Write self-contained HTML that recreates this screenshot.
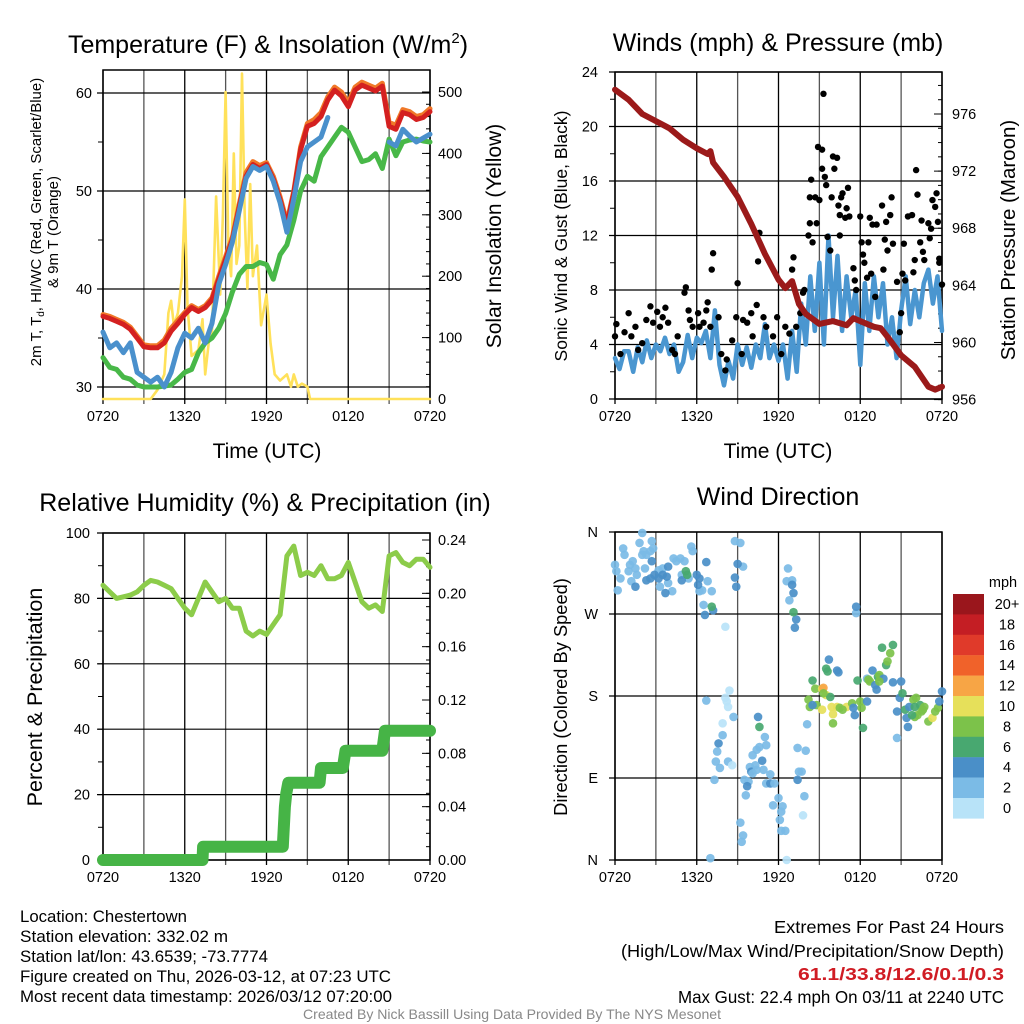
<!DOCTYPE html>
<html><head><meta charset="utf-8"><style>
html,body{margin:0;padding:0;background:#fff}
svg{display:block;font-family:"Liberation Sans",Arial,sans-serif}
</style></head><body>
<svg id="chart" width="1024" height="1024" viewBox="0 0 1024 1024" xmlns="http://www.w3.org/2000/svg">
<rect x="0" y="0" width="1024" height="1024" fill="#fff"/>
<text x="268" y="53" font-size="25" text-anchor="middle">Temperature (F) &amp; Insolation (W/m<tspan font-size="15" dy="-10">2</tspan><tspan dy="10">)</tspan></text>
<text x="778" y="51" font-size="25" text-anchor="middle">Winds (mph) &amp; Pressure (mb)</text>
<text x="265" y="511" font-size="25" text-anchor="middle">Relative Humidity (%) &amp; Precipitation (in)</text>
<text x="778" y="505" font-size="25" text-anchor="middle">Wind Direction</text>

<text transform="translate(41,222) rotate(-90)" font-size="15" text-anchor="middle">2m T, T<tspan font-size="10" dy="3">d</tspan><tspan dy="-3">, HI/WC (Red, Green, Scarlet/Blue)</tspan></text>
<text transform="translate(58,232) rotate(-90)" font-size="15" text-anchor="middle">&amp; 9m T (Orange)</text>
<text transform="translate(501,236) rotate(-90)" font-size="21" text-anchor="middle">Solar Insolation (Yellow)</text>
<text transform="translate(567,236) rotate(-90)" font-size="17.5" text-anchor="middle">Sonic Wind &amp; Gust (Blue, Black)</text>
<text transform="translate(1015,240) rotate(-90)" font-size="20.5" text-anchor="middle">Station Pressure (Maroon)</text>
<text transform="translate(42,697) rotate(-90)" font-size="21.5" text-anchor="middle">Percent &amp; Precipitation</text>
<text transform="translate(567,697) rotate(-90)" font-size="18.3" text-anchor="middle">Direction (Colored By Speed)</text>
<text x="267" y="458" font-size="21" text-anchor="middle">Time (UTC)</text>
<text x="778" y="458" font-size="21" text-anchor="middle">Time (UTC)</text>

<g font-size="16.5">
<text x="20" y="922" textLength="167" lengthAdjust="spacingAndGlyphs">Location: Chestertown</text>
<text x="20" y="942" textLength="208" lengthAdjust="spacingAndGlyphs">Station elevation: 332.02 m</text>
<text x="20" y="962" textLength="248" lengthAdjust="spacingAndGlyphs">Station lat/lon: 43.6539; -73.7774</text>
<text x="20" y="982" textLength="371" lengthAdjust="spacingAndGlyphs">Figure created on Thu, 2026-03-12, at 07:23 UTC</text>
<text x="20" y="1002" textLength="372" lengthAdjust="spacingAndGlyphs">Most recent data timestamp: 2026/03/12 07:20:00</text>
</g>
<g font-size="17.5">
<text x="774" y="933" textLength="230" lengthAdjust="spacingAndGlyphs">Extremes For Past 24 Hours</text>
<text x="621" y="957" textLength="383" lengthAdjust="spacingAndGlyphs">(High/Low/Max Wind/Precipitation/Snow Depth)</text>
<text x="798" y="980" fill="#d01c24" font-weight="bold" textLength="206" lengthAdjust="spacingAndGlyphs">61.1/33.8/12.6/0.1/0.3</text>
<text x="678" y="1003" textLength="326" lengthAdjust="spacingAndGlyphs">Max Gust: 22.4 mph On 03/11 at 2240 UTC</text>
</g>
<text x="303" y="1019" font-size="14" fill="#888" textLength="418" lengthAdjust="spacingAndGlyphs">Created By Nick Bassill Using Data Provided By The NYS Mesonet</text>
<g id="layer"></g>
</svg>
<script>
const xLabels=["0720","1320","1920","0120","0720"];
const tempHalfHr=[37.2,37.0,36.7,36.4,35.9,35.0,34.1,34.0,34.0,34.5,35.7,36.5,37.4,38.1,37.7,38.1,38.9,41.0,43.0,45.0,48.4,51.5,52.7,52.3,52.7,51.2,49.1,46.5,49.8,54.2,56.6,56.9,57.6,59.3,60.3,59.7,58.6,60.3,60.8,60.5,60.2,60.7,56.6,56.3,58.0,57.8,57.3,57.5,58.1];
const temp9m=[37.4,37.2,36.9,36.6,36.1,35.2,34.3,34.2,34.2,34.8,36.0,36.8,37.6,38.3,37.9,38.3,39.1,41.3,43.3,45.3,48.7,51.9,53.0,52.6,52.9,51.5,49.4,46.8,50.0,54.5,56.9,57.3,58.0,59.6,60.6,60.1,59.0,60.6,61.1,60.8,60.5,61.0,57.0,56.7,58.3,58.1,57.6,57.8,58.4];
const hiwc=[35.6,34.0,34.5,33.5,34.5,31.5,31.0,30.5,31.0,30.0,31.5,34.0,35.5,35.0,36.0,34.5,36.5,40.5,42.5,44.8,48.0,51.3,52.5,52.1,52.5,51.0,48.8,45.8,49.2,53.0,54.5,55.0,55.5,57.5,null,null,56.8,null,null,null,null,null,55.0,54.6,56.3,55.6,55.0,55.4,55.8];
const dewpt=[33,32,31.8,31,30.8,30.2,30,30,30,30.1,30.2,30.8,31.5,31.8,33.5,34.5,35,36,37.5,39.7,41.5,42.3,42.3,42.7,42.5,41,43.5,44.5,47,50,51.5,51,53.5,54.5,55.5,56.5,56,54.5,53,53.2,53.8,52.3,55.3,53.6,55,55.2,55.3,55.1,55];
const solarHr=[0,3.5,4,4.5,4.8,5.0,5.2,5.5,5.8,6.0,6.2,6.5,7.0,7.3,7.5,7.8,8.0,8.3,8.6,8.8,9.0,9.2,9.4,9.6,9.8,10.0,10.2,10.4,10.6,10.8,11.0,11.3,11.6,12.0,12.3,12.6,13.0,13.5,13.8,14.0,14.3,14.6,15.0,15.2,24];
const solarW=[0,0,15,40,140,160,120,140,200,325,150,70,80,130,40,100,110,330,170,300,500,250,200,400,220,250,530,300,180,350,200,250,120,170,90,40,30,40,20,40,20,25,20,0,0];
const windThirdHr=[3.0,2.2,3.5,3.5,2.0,3.8,2.7,4.3,3.0,4.0,3.5,4.5,3.3,4.0,2.0,2.7,4.7,3.0,4.5,4.1,5.0,3.0,6.5,2.5,1.0,2.8,1.5,4.0,2.5,3.8,2.3,4.0,3.0,5.5,3.0,4.0,2.8,4.0,1.5,5.0,2.0,7.0,4.0,9.0,5.0,10.0,4.0,12.0,6.0,10.5,5.0,9.0,6.0,8.0,2.5,8.5,5.0,9.0,6.0,8.5,4.0,6.0,3.0,6.5,9.0,5.5,8.0,6.0,8.5,9.5,7.0,9.0,5.0];
const gustHr=[0.0,0.1,0.4,0.7,1.0,1.2,1.5,1.7,2.0,2.3,2.6,2.8,3.1,3.3,3.5,3.7,3.9,4.2,4.4,4.6,5.1,5.2,5.4,5.5,5.7,6.1,6.2,6.5,6.7,6.8,7.0,7.2,7.1,7.6,7.8,8.1,8.2,8.6,8.9,9.0,9.3,9.4,9.7,10.0,10.1,10.4,10.5,10.6,10.9,11.1,11.6,11.9,12.2,12.5,12.8,13.0,13.1,13.3,13.6,13.8,13.9,14.2,14.3,14.3,14.4,14.5,14.7,14.8,14.9,15.0,15.2,15.3,15.2,15.4,15.5,15.6,15.8,15.9,16.0,16.1,16.3,16.4,16.5,16.5,16.6,16.7,16.9,17.0,17.1,17.2,17.5,17.6,17.7,18.0,18.1,18.2,18.3,18.5,18.6,18.7,18.8,18.9,19.1,19.2,19.6,19.7,19.8,19.9,20.0,20.2,20.3,20.4,20.7,20.9,21.0,21.1,21.2,21.3,21.5,21.8,21.9,22.0,22.1,22.2,22.4,22.5,22.6,22.7,23.0,23.1,23.2,23.3,23.5,23.6,23.7,23.8,24.0,23.8];
const gustMph=[4.6,5.5,3.3,4.9,6.3,4.6,5.3,3.6,4.1,5.8,6.8,5.6,6.4,5.3,6.0,6.7,5.6,3.6,3.3,4.6,7.8,8.2,6.5,5.8,5.3,6.3,5.3,5.6,6.5,7.1,5.3,10.7,9.5,6.0,3.3,2.1,2.9,4.3,6.0,8.5,3.3,5.8,5.6,6.3,4.6,6.9,10.1,12.2,6.0,5.3,4.6,6.0,3.3,5.3,4.8,9.5,10.4,5.3,6.3,7.8,8.0,12.0,12.9,14.8,16.1,11.5,14.8,12.9,18.5,14.6,18.3,22.4,16.9,16.3,15.7,11.9,10.9,14.8,17.8,16.9,17.7,14.2,12.0,13.5,14.8,15.1,13.3,14.0,15.5,13.4,9.6,8.7,8.0,13.4,11.5,10.6,10.0,8.9,11.5,13.3,9.2,12.8,7.5,12.8,14.2,9.5,11.7,13.0,10.9,13.5,14.8,11.4,8.6,4.9,6.3,9.2,11.4,8.7,13.4,13.5,9.3,10.2,16.8,15.0,11.5,13.1,10.8,10.2,12.9,11.8,12.5,14.6,14.1,15.1,13.0,10.3,8.4,10.0];
const pressHr=[0,1,2,3,4,5,6,6.8,7,7.2,8,9,10,11,12,12.5,13,13.5,14,15,16,17,17.5,18,19,19.5,20,21,22,23,23.5,24];
const pressMb=[977.7,977.0,976.0,975.5,975.0,974.2,973.6,973.2,973.4,972.6,971.6,970.2,968.3,966.2,964.4,963.8,964.3,962.7,962.0,961.3,961.5,961.2,961.7,961.5,961.1,961.0,960.4,959.1,958.3,956.9,956.7,956.9];
const rhHalfHr=[84,82,80,80.5,81,82,84,85.5,85,84,83,80,77,75,80,85,82,79,80,77,77,70,68.5,70,69,72,75,93,96,87,88,87,90,86,86,87,91,85,79,77,78,76,93,94,91,90,92,92,89.5];
const precHr=[0,7.3,7.35,13.2,13.25,13.3,13.35,13.45,13.6,15.9,16.0,17.6,17.8,20.5,20.7,24];
const precIn=[0,0,0.01,0.01,0.02,0.03,0.04,0.05,0.058,0.058,0.069,0.069,0.082,0.082,0.097,0.097];
const dirHr=[0.0,0.1,0.2,0.4,0.6,0.7,1.0,1.1,1.2,1.3,1.5,1.6,1.8,2.0,2.0,2.1,2.2,2.3,2.6,2.7,2.8,3.2,3.3,3.5,3.9,4.2,4.3,4.5,4.8,4.9,5.1,5.4,5.6,5.7,6.2,6.4,6.5,6.8,7.1,8.8,9.2,9.4,12.7,12.6,13.0,12.8,17.7,8.1,
1.5,2.3,2.6,2.7,2.9,3.2,3.5,3.7,3.8,3.9,4.9,6.0,6.1,6.2,6.7,6.6,7.2,8.8,9.0,8.9,13.0,13.1,13.3,13.2,17.7,
5.2,5.3,7.1,13.1,
6.7,8.1,8.4,8.2,8.3,8.7,7.9,7.9,7.6,7.5,7.4,7.7,7.3,8.3,8.6,9.2,9.4,9.3,7.0,10.5,10.6,11.0,11.1,10.6,10.4,10.1,10.8,10.3,9.9,10.0,10.4,10.9,10.1,9.5,9.8,9.7,11.4,11.1,11.4,11.7,9.6,12.0,11.6,12.3,12.2,12.1,12.5,12.2,12.6,13.5,13.7,13.4,13.9,13.8,13.4,14.0,14.1,
14.5,14.7,15.2,15.3,15.5,15.8,15.3,14.2,14.3,14.8,15.2,14.5,15.9,16.0,16.3,16.5,17.0,16.7,17.4,17.5,17.6,18.0,18.1,18.2,16.0,15.7,15.5,15.6,16.3,16.4,17.8,18.5,18.6,18.7,18.9,19.1,19.2,19.3,19.4,19.6,19.7,19.9,20.0,20.2,20.4,18.5,19.4,20.4,20.7,20.7,20.9,21.0,21.1,21.3,21.4,21.5,21.6,21.9,22.0,22.1,22.2,22.4,22.5,22.6,22.7,23.0,23.3,23.5,23.7,23.8,24.0,22.0,21.8];
const dirDeg=[324,317,296,309,342,335,317,324,306,328,320,313,348,359,335,339,320,335,339,350,342,318,300,320,304,295,331,328,331,313,328,309,344,339,295,296,280,306,295,350,348,322,320,306,307,285,271,256,
300,307,309,328,313,309,313,293,311,322,307,313,302,309,327,269,274,310,325,300,302,293,264,255,278,
317,313,278,272,
175,178,186,174,168,157,150,137,128,119,108,101,88,108,104,41,27,20,2,157,146,135,126,124,121,115,109,104,102,97,99,99,95,88,86,81,94,84,84,84,71,68,60,59,53,44,32,32,0,97,97,88,70,49,123,120,149,
197,188,188,189,181,179,183,176,168,170,165,170,168,160,168,167,168,165,172,167,159,174,167,145,150,220,210,207,208,206,197,199,198,196,208,192,187,201,203,233,199,214,218,227,236,174,196,195,163,134,178,196,183,165,156,146,168,176,168,178,159,170,163,165,168,152,156,163,167,174,185,157,159];
const dirSpd=[2,2,2,2,2,2,2,2,2,2,2,2,2,2,2,2,2,2,2,2,2,2,2,2,2,2,2,2,2,2,2,2,2,2,2,2,2,2,2,2,2,2,2,2,2,2,2,0,
4,4,4,4,4,4,4,4,4,4,4,4,4,4,4,4,4,4,4,4,4,4,4,4,4,
6,6,6,6,
2,0,0,0,0,2,0,2,4,2,2,2,2,2,0,2,2,2,2,4,6,2,2,2,2,2,4,2,2,4,2,2,2,2,2,4,2,2,4,2,2,2,2,2,2,2,2,2,0,2,2,4,2,0,2,2,2,
6,8,10,12,10,6,8,8,8,8,10,4,10,10,10,8,10,8,8,4,4,8,8,6,8,4,6,6,4,4,6,2,8,8,4,4,4,6,8,6,4,6,8,8,6,4,8,4,4,2,4,4,6,6,4,4,4,8,6,8,8,6,8,8,8,8,10,8,8,4,4,8,6];
const spdLabels=["20+","18","16","14","12","10","8","6","4","2","0"];
const spdColors=["#9a161c","#c41e24","#e03a2a","#f0622a","#f7a545","#e6e05a","#7cc24a","#48a870","#4a8fc8","#7bbbe6","#b8e3f8"];
const tempTicks=[30,40,50,60], solarTicks=[0,100,200,300,400,500];
const windTicks=[0,4,8,12,16,20,24], pressTicks=[956,960,964,968,972,976];
const rhTicks=[0,20,40,60,80,100], precTicks=[0,0.04,0.08,0.12,0.16,0.2,0.24];
const dirTicks=[0,90,180,270,360], dirLabels=["N","E","S","W","N"];

const NS="http://www.w3.org/2000/svg";
const layer=document.getElementById('layer');
function mk(tag,attrs,parent){const e=document.createElementNS(NS,tag);for(const k in attrs)e.setAttribute(k,attrs[k]);(parent||layer).appendChild(e);return e;}
function lin(d0,d1,p0,p1){return v=>p0+(v-d0)/(d1-d0)*(p1-p0);}

const P1={x0:103,x1:430,y0:70,y1:399}, P2={x0:615,x1:942,y0:72,y1:399}, P3={x0:103,x1:430,y0:533,y1:860}, P4={x0:615,x1:942,y0:532,y1:860};
const x1s=lin(0,24,P1.x0,P1.x1), x2s=lin(0,24,P2.x0,P2.x1);
const yT=lin(30,60,387,93), yS=lin(0,500,399,92);
const yW=lin(0,24,399,72), yP=lin(956,976,399.6,114);
const yRH=lin(0,100,860,533), yPr=lin(0,0.24,860,540);
const yD=lin(0,360,860,532);

function frame(P,xs,hGrid,name){
  const g=mk('g',{});
  
  
  for(let h=0;h<=24;h+=3){const x=xs(h);
    const l=mk('line',{x1:x,x2:x,y1:P.y0,y2:P.y1+5,stroke:(h%6==0?'#000':'#555'),'stroke-width':1.3},g);
    
    }
  hGrid.forEach(y=>{const l=mk('line',{x1:P.x0-6,x2:P.x1,y1:y,y2:y,stroke:'#000','stroke-width':1.2},g);
    
    });
  const r=mk('rect',{x:P.x0,y:P.y0,width:P.x1-P.x0,height:P.y1-P.y0,fill:'none',stroke:'#000','stroke-width':1.5},g);
  
  
  xLabels.forEach((t,i)=>{const tx=mk('text',{x:xs(i*6),y:P.y1+22,'font-size':14.5,'text-anchor':'middle'},g);tx.textContent=t;
    
    });
}
function yLabels(vals,ys,x,anchor,fmt,name){vals.forEach(v=>{const t=mk('text',{x:x,y:ys(v)+5,'font-size':14.5,'text-anchor':anchor});t.textContent=fmt(v);
  
  });}
function minor(from,to,step,ys,x,len){for(let v=from;v<=to+1e-9;v+=step){const y=ys(v);mk('line',{x1:x,x2:x+len,y1:y,y2:y,stroke:'#000','stroke-width':1});}}
function path(xs,ys,X,Y,color,w,name){let d='',pen=false;
  for(let i=0;i<X.length;i++){if(Y[i]===null){pen=false;continue;}d+=(pen?'L':'M')+xs(X[i]).toFixed(1)+','+ys(Y[i]).toFixed(1);pen=true;}
  const p=mk('path',{d:d,fill:'none',stroke:color,'stroke-width':w,'stroke-linejoin':'round','stroke-linecap':'round'});
  
  return p;}

// Panel 1
frame(P1,x1s,tempTicks.map(yT),'temp');
minor(30,60,5,yT,P1.x0-5,5); minor(0,500,20,yS,P1.x1-4,4); minor(0,500,100,yS,P1.x1-8,8);
yLabels(tempTicks,yT,92,'end',v=>v,'temp-tick-label');
yLabels(solarTicks,yS,438,'start',v=>v,'solar-tick-label');
const halfHr=tempHalfHr.map((_,i)=>i/2);
path(x1s,yS,solarHr,solarW,'#ffe15a',2.6,'solar-line');
path(x1s,yT,halfHr,dewpt,'#48b848',5,'dewpoint-line');
path(x1s,yT,halfHr,temp9m,'#f07828',5,'temp-9m-line');
path(x1s,yT,halfHr,tempHalfHr,'#d42020',5,'temp-2m-line');
path(x1s,yT,halfHr,hiwc,'#4a90cc',5,'heat-index-windchill-line');

// Panel 2
frame(P2,x2s,windTicks.map(yW),'wind');
minor(0,24,2,yW,P2.x0-5,5); minor(956,978,1,yP,P2.x1-4,4); minor(956,976,4,yP,P2.x1-8,8);
yLabels(windTicks,yW,598,'end',v=>v,'wind-tick-label');
yLabels(pressTicks,yP,952,'start',v=>v,'pressure-tick-label');
path(x2s,yW,windThirdHr.map((_,i)=>i/3),windThirdHr,'#4a96d0',4.5,'sustained-wind-line');
gustHr.forEach((h,i)=>{const c=mk('circle',{cx:x2s(h),cy:yW(gustMph[i]),r:3.2,fill:'#000'});
  
  });
path(x2s,yP,pressHr,pressMb,'#9b1a1a',6,'pressure-line');

// Panel 3
frame(P3,x1s,rhTicks.map(yRH),'rh');
minor(0,100,10,yRH,P3.x0-5,5); minor(0,0.24,0.01,yPr,P3.x1-4,4); minor(0,0.24,0.04,yPr,P3.x1-8,8);
yLabels(rhTicks,yRH,90,'end',v=>v,'rh-tick-label');
yLabels(precTicks,yPr,438,'start',v=>v.toFixed(2),'precip-tick-label');
path(x1s,yRH,rhHalfHr.map((_,i)=>i/2),rhHalfHr,'#8ccc4a',5,'rh-line');
path(x1s,yPr,precHr,precIn,'#46b446',12,'precip-line');

// Panel 4
frame(P4,x2s,dirTicks.map(yD),'dir');
yLabels(dirTicks,yD,598,'end',(v)=>dirLabels[dirTicks.indexOf(v)],'dir-tick-label');
dirHr.forEach((h,i)=>{const c=mk('circle',{cx:x2s(h),cy:yD(dirDeg[i]),r:4.3,fill:spdColors[10-dirSpd[i]/2],'fill-opacity':0.92});
  
  });

// Colorbar
const cb=mk('g',{});


const mph=mk('text',{x:1003,y:587,'font-size':14.5,'text-anchor':'middle'},cb);mph.textContent='mph';
spdColors.forEach((c,i)=>{const y=594+i*20.4;
  const r=mk('rect',{x:953,y:y,width:31,height:20.6,fill:c},cb);
  
  
  const t=mk('text',{x:1007,y:y+15,'font-size':14.5,'text-anchor':'middle'},cb);t.textContent=spdLabels[i];
  
  });
</script>
</body></html>
